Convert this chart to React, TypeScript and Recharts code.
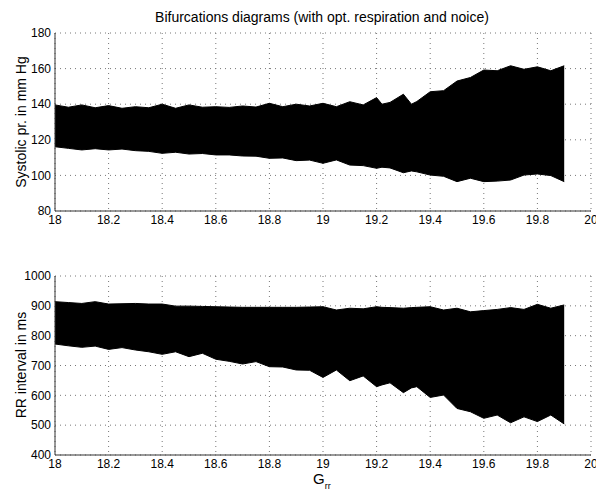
import React from "react";
import { ComposedChart, Area, XAxis, YAxis, CartesianGrid } from "recharts";

// control parameter G_rr
const gValues = [
  18, 18.05, 18.1, 18.15, 18.2, 18.25, 18.3, 18.35, 18.4, 18.45, 18.5, 18.55, 18.6, 18.65,
  18.7, 18.75, 18.8, 18.85, 18.9, 18.95, 19, 19.05, 19.1, 19.15, 19.2, 19.22, 19.25, 19.3,
  19.33, 19.35, 19.4, 19.45, 19.5, 19.55, 19.6, 19.65, 19.7, 19.75, 19.8, 19.85, 19.9,
];

// systolic pressure envelope (mm Hg)
const sysHigh = [
  139.6, 138.3, 139.6, 138, 139.2, 137.7, 138.6, 138, 140, 137.7, 139.6, 138.3, 138.6, 138.2,
  139, 138.4, 140.5, 138.6, 140, 139, 140.5, 138.6, 141.4, 139.6, 143.7, 140, 141, 145.6,
  140, 141.5, 147, 147.6, 153, 155, 159.2, 158.8, 161.6, 159.6, 161, 158.8, 161.6,
];
const sysLow = [
  116.1, 115.2, 114.3, 115, 114.3, 114.8, 113.9, 113.5, 112.4, 113, 112, 112.3, 111.5, 111.5,
  110.9, 110.8, 109.6, 109.8, 108.3, 108.6, 106.8, 108.7, 105.8, 105.5, 104, 104.6, 104.2, 101.5,
  102.5, 102, 100.2, 99.5, 96.5, 98.4, 96.5, 96.8, 97.4, 100.2, 100.8, 99.9, 96.5,
];

// RR interval envelope (ms)
const rrHigh = [
  914, 911, 908, 914, 906, 907, 908, 906, 906, 899, 899, 898, 897, 896,
  895, 895, 895, 895, 895, 896, 897, 886, 892, 890, 897, 895, 894, 892,
  894, 895, 897, 886, 892, 880, 884, 888, 894, 888, 905, 892, 903,
];
const rrLow = [
  772, 766, 761, 765, 754, 760, 752, 746, 737.5, 746, 729.6, 741, 721, 714,
  705, 713, 696, 695, 685, 684, 660, 685, 649, 665, 629, 635, 642, 609,
  625, 629, 593, 601, 556, 545, 523, 534, 508, 528, 512, 534, 504,
];

const xTicks = [18, 18.2, 18.4, 18.6, 18.8, 19, 19.2, 19.4, 19.6, 19.8, 20];
const sysTicks = [80, 100, 120, 140, 160, 180];
const rrTicks = [400, 500, 600, 700, 800, 900, 1000];

const FONT = "'Liberation Sans', Arial, Helvetica, sans-serif";
const AXIS = "#333";
const tickStyle = { fill: "#000", fontSize: 12, fontFamily: FONT };

interface PanelProps {
  data: { g: number; range: [number, number] }[];
  yDomain: [number, number];
  yTicks: number[];
  height: number;
  top: number;
  bottom: number;
}

function Panel({ data, yDomain, yTicks, height, top, bottom }: PanelProps) {
  const blank = () => "";
  return (
    <ComposedChart
      width={596}
      height={height}
      data={data}
      margin={{ top, right: 5, bottom, left: 10 }}
    >
      <CartesianGrid
        xAxisId="b"
        yAxisId="l"
        stroke="#777"
        strokeWidth={1}
        strokeDasharray="1 4"
      />
      <XAxis
        xAxisId="b"
        dataKey="g"
        type="number"
        domain={[18, 20]}
        ticks={xTicks}
        allowDataOverflow
        height={20}
        tickSize={0}
        tickMargin={4}
        tickLine={false}
        axisLine={{ stroke: AXIS }}
        tick={tickStyle}
        interval={0}
      />
      <XAxis
        xAxisId="bm"
        dataKey="g"
        type="number"
        domain={[18, 20]}
        ticks={xTicks}
        allowDataOverflow
        height={0}
        mirror
        tickSize={5}
        tickFormatter={blank}
        axisLine={false}
        tickLine={{ stroke: AXIS }}
        interval={0}
      />
      <XAxis
        xAxisId="t"
        orientation="top"
        dataKey="g"
        type="number"
        domain={[18, 20]}
        ticks={xTicks}
        allowDataOverflow
        height={0}
        mirror
        tickSize={5}
        tickFormatter={blank}
        axisLine={{ stroke: AXIS }}
        tickLine={{ stroke: AXIS }}
        interval={0}
      />
      <YAxis
        yAxisId="l"
        type="number"
        domain={yDomain}
        ticks={yTicks}
        allowDataOverflow
        width={45}
        tickSize={0}
        tickMargin={4}
        tickLine={false}
        axisLine={{ stroke: AXIS }}
        tick={tickStyle}
        interval={0}
      />
      <YAxis
        yAxisId="lm"
        type="number"
        domain={yDomain}
        ticks={yTicks}
        allowDataOverflow
        width={0}
        mirror
        tickSize={5}
        tickFormatter={blank}
        axisLine={false}
        tickLine={{ stroke: AXIS }}
        interval={0}
      />
      <YAxis
        yAxisId="r"
        orientation="right"
        type="number"
        domain={yDomain}
        ticks={yTicks}
        allowDataOverflow
        width={0}
        mirror
        tickSize={5}
        tickFormatter={blank}
        axisLine={{ stroke: AXIS }}
        tickLine={{ stroke: AXIS }}
        interval={0}
      />
      <Area
        xAxisId="b"
        yAxisId="l"
        dataKey="range"
        type="linear"
        fill="#000"
        fillOpacity={1}
        stroke="#000"
        strokeWidth={1}
        isAnimationActive={false}
        dot={false}
        activeDot={false}
      />
    </ComposedChart>
  );
}

export default function App() {
  const sysData = gValues.map((g, i) => ({ g, range: [sysLow[i], sysHigh[i]] as [number, number] }));
  const rrData = gValues.map((g, i) => ({ g, range: [rrLow[i], rrHigh[i]] as [number, number] }));

  return (
    <div
      style={{
        position: "absolute",
        left: 0,
        top: 0,
        width: 596,
        height: 491,
        background: "#fff",
        overflow: "hidden",
        fontFamily: FONT,
      }}
    >
      <div style={{ position: "absolute", left: 0, top: 0 }}>
        <Panel data={sysData} yDomain={[80, 180]} yTicks={sysTicks} height={240} top={33} bottom={9} />
      </div>
      <div style={{ position: "absolute", left: 0, top: 240 }}>
        <Panel data={rrData} yDomain={[400, 1000]} yTicks={rrTicks} height={251} top={36} bottom={16} />
      </div>
      <svg
        width={596}
        height={491}
        style={{ position: "absolute", left: 0, top: 0, pointerEvents: "none" }}
      >
        <text x={322} y={22} textAnchor="middle" fontSize={14} fontFamily={FONT} fill="#000">
          Bifurcations diagrams (with opt. respiration and noice)
        </text>
        <text
          x={0}
          y={0}
          transform="translate(26,122) rotate(-90)"
          textAnchor="middle"
          fontSize={14}
          fontFamily={FONT}
          fill="#000"
        >
          Systolic pr. in mm Hg
        </text>
        <text
          x={0}
          y={0}
          transform="translate(26,365) rotate(-90)"
          textAnchor="middle"
          fontSize={14}
          fontFamily={FONT}
          fill="#000"
        >
          RR interval in ms
        </text>
        <text x={313} y={484} fontSize={15} fontFamily={FONT} fill="#000">
          G
          <tspan dy={5} fontSize={9}>
            rr
          </tspan>
        </text>
      </svg>
    </div>
  );
}
